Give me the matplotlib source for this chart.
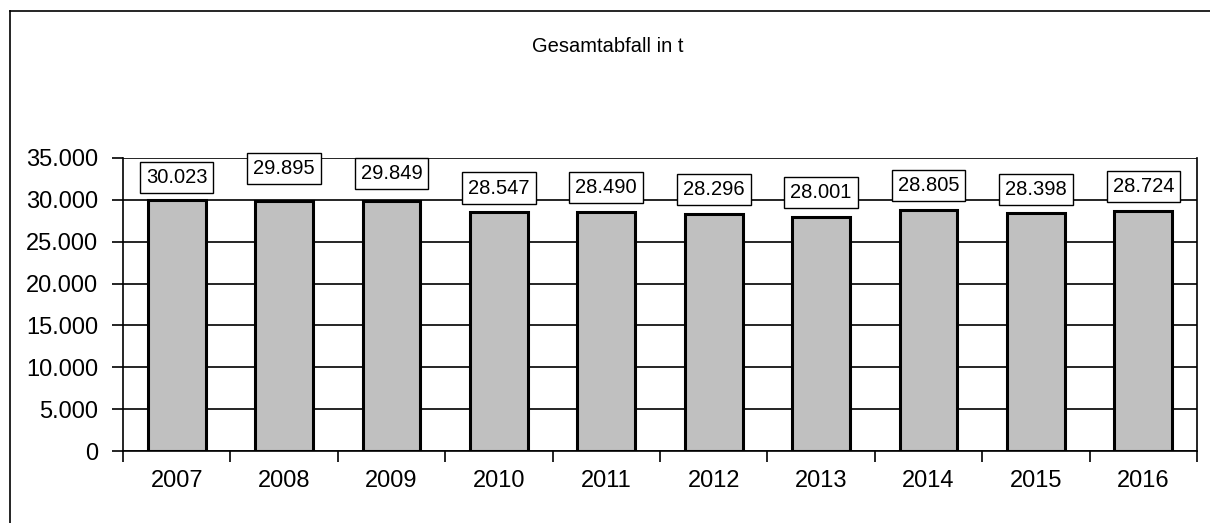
import matplotlib
matplotlib.use('Agg')
import matplotlib.pyplot as plt
from matplotlib.lines import Line2D
from matplotlib.ticker import FuncFormatter, MultipleLocator

plt.rcParams['font.family'] = ['Liberation Sans', 'DejaVu Sans']

# data
years = ['2007', '2008', '2009', '2010', '2011', '2012', '2013', '2014', '2015', '2016']
totals = [30023, 29895, 29849, 28547, 28490, 28296, 28001, 28805, 28398, 28724]

# layout: how far each label box centre sits above its bar (pixels)
label_nudge = [22, 32, 28, 24, 25, 25, 24, 24, 24, 24]


def de_thousands(v, pos=None):
    return f"{int(v):,}".replace(',', '.')


fig = plt.figure(figsize=(12.10, 5.23), dpi=100)

# outer frame (only left and top edges visible)
fig.add_artist(Line2D([10 / 1210, 10 / 1210], [0, 1 - 11 / 523], color='black', lw=1.2,
                      transform=fig.transFigure))
fig.add_artist(Line2D([10 / 1210, 1], [1 - 11 / 523, 1 - 11 / 523], color='black', lw=1.2,
                      transform=fig.transFigure))

ax = fig.add_axes([123 / 1210, 1 - 451 / 523, (1197 - 123) / 1210, (451 - 158) / 523])

x = list(range(len(years)))
ax.bar(x, totals, width=0.54, color='#c0c0c0', edgecolor='black', linewidth=2.2, zorder=3)

ax.set_xlim(-0.5, len(years) - 0.5)
ax.set_ylim(0, 35000)
ax.yaxis.set_major_locator(MultipleLocator(5000))
ax.yaxis.set_major_formatter(FuncFormatter(de_thousands))
ax.grid(axis='y', color='black', linewidth=1.2, zorder=0)

ax.set_xticks(x)
ax.set_xticklabels(years)
ax.set_xticks([i + 0.5 for i in range(-1, len(years))], minor=True)
ax.tick_params(axis='x', which='major', length=0, pad=14, labelsize=17)
ax.tick_params(axis='x', which='minor', length=8, width=1.2, direction='out')
ax.tick_params(axis='y', length=8, width=1.2, direction='out', pad=10, labelsize=17)

for s in ax.spines.values():
    s.set_linewidth(1.2)
ax.spines['top'].set_visible(False)

for xi, v, off in zip(x, totals, label_nudge):
    ax.annotate(de_thousands(v), (xi, v), xytext=(0, off), textcoords='offset pixels',
                ha='center', va='center', fontsize=14.5, zorder=5,
                bbox=dict(boxstyle='square,pad=0.3', facecolor='white', edgecolor='black', lw=1.0))

fig.text(608 / 1210, 1 - 47 / 523, 'Gesamtabfall in t', ha='center', va='center', fontsize=14.5)

fig.savefig('out.png', dpi=100)
